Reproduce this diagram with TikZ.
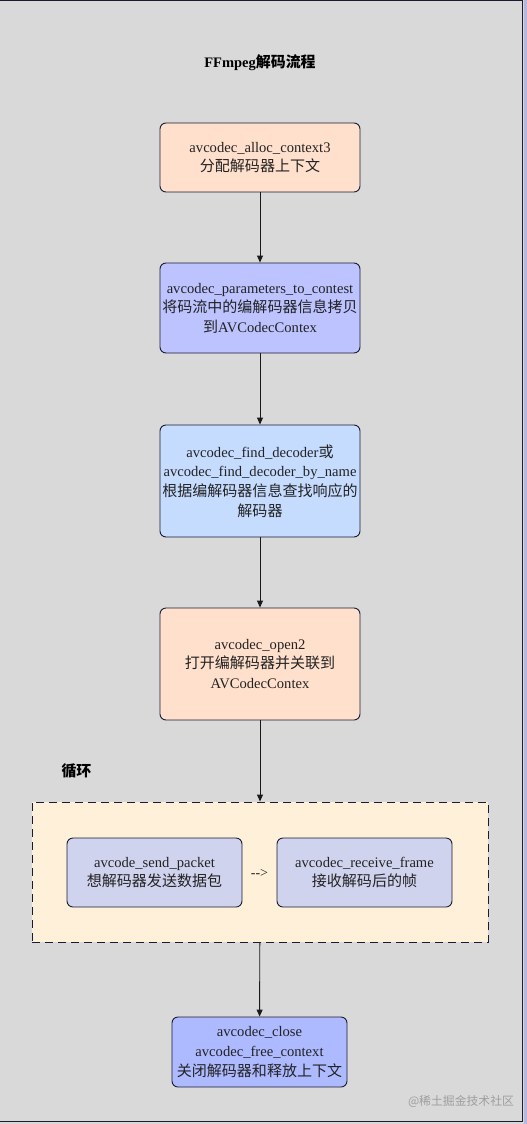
\documentclass[tikz,border=0pt]{standalone}
\usepackage{fontspec}
\setmainfont{Liberation Serif}
\newfontfamily\cjk[Scale=1.03]{Noto Sans CJK SC}
\usepackage{xcolor}
\usetikzlibrary{arrows.meta}

\definecolor{bggray}{HTML}{D9D9D9}
\definecolor{edgeline}{HTML}{1A1A33}
\definecolor{peach}{HTML}{FFE0CC}
\definecolor{lavender}{HTML}{BCC3FF}
\definecolor{skyblue}{HTML}{C6DCFF}
\definecolor{cream}{HTML}{FFF1D9}
\definecolor{mist}{HTML}{D0D3EE}
\definecolor{periwinkle}{HTML}{AEBAFF}
\definecolor{inktext}{HTML}{222222}

\begin{document}
\begin{tikzpicture}[x=1pt,y=-1pt,
    box/.style={draw=edgeline, line width=0.9pt, rounded corners=6pt, align=center,
      inner sep=0pt, text=inktext, font=\fontsize{14.6}{19.6}\selectfont},
    flow/.style={draw=black!90, line width=0.9pt, -{Triangle[length=7pt,width=6pt]}}]
        \useasboundingbox (0,0) rectangle (527,1124);
        \fill[bggray] (0,0) rectangle (527,1124);
        \fill[bggray!85!blue] (523.5,0) rectangle (527,1124);
        \draw[edgeline, line width=1.2pt] (0,0.6) -- (522.5,0.6) -- (522.5,1121.4) -- (0,1121.4);

        % title
        \node[font=\fontsize{14.5}{18}\selectfont\bfseries] (title) at (260,63) {FFmpeg{\cjk 解码流程}};

        % main chain
        \node[box, fill=peach, minimum width=200, minimum height=69] (alloc) at (260,157.5)
            {avcodec\_alloc\_context3\\{\cjk 分配解码器上下文}};
        \node[box, fill=lavender, minimum width=200, minimum height=90] (params) at (260,308)
            {avcodec\_parameters\_to\_contest\\{\cjk 将码流中的编解码器信息拷贝}\\{\cjk 到}AVCodecContex};
        \node[box, fill=skyblue, minimum width=200, minimum height=112] (find) at (260,481)
            {avcodec\_find\_decoder{\cjk 或}\\avcodec\_find\_decoder\_by\_name\\{\cjk 根据编解码器信息查找响应的}\\{\cjk 解码器}};
        \node[box, fill=peach, minimum width=200, minimum height=112] (open) at (260,664)
            {avcodec\_open2\\{\cjk 打开编解码器并关联到}\\AVCodecContex};

        % loop cluster
        \node[font=\fontsize{14.5}{18}\selectfont\bfseries\cjk, anchor=west] (looplabel) at (58,771) {循环};
        \node[draw=edgeline, line width=0.9pt, fill=cream, dash pattern=on 8pt off 5pt,
            minimum width=456, minimum height=140, inner sep=0pt] (cluster) at (260,872) {};
        \node[box, fill=mist, minimum width=175, minimum height=69] (send) at (154.5,872.5)
            {avcode\_send\_packet\\{\cjk 想解码器发送数据包}};
        \node[box, fill=mist, minimum width=175, minimum height=69] (recv) at (364.5,872.5)
            {avcodec\_receive\_frame\\{\cjk 接收解码后的帧}};
        \node[font=\fontsize{14}{18}\selectfont, text=inktext] (then) at (259.5,873) {-{}->};

        \node[box, fill=periwinkle, minimum width=175, minimum height=70] (close) at (259.5,1052)
            {avcodec\_close\\avcodec\_free\_context\\{\cjk 关闭解码器和释放上下文}};

        \node[font=\fontsize{11.5}{14}\selectfont\cjk, text=black!38] (mark) at (461,1101) {@稀土掘金技术社区};

        \draw[flow] (alloc) -- (params);
        \draw[flow] (params) -- (find);
        \draw[flow] (find) -- (open);
        \draw[flow] (open) -- (cluster);
        \draw[flow] (cluster) -- (close);
    \end{tikzpicture}
\end{document}
